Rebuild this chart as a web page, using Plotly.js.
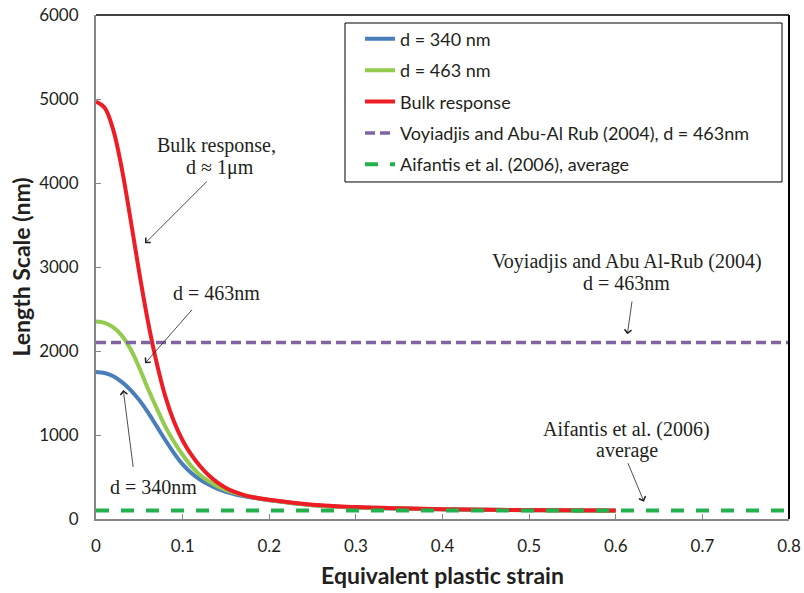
<!DOCTYPE html>
<html>
<head>
<meta charset="utf-8">
<script src="https://cdn.plot.ly/plotly-3.0.1.min.js"></script>
<style>
  html, body { margin: 0; padding: 0; background: #fff; }
  #chart { width: 804px; height: 593px; }
</style>
</head>
<body>
<div id="chart"></div>
<script>
// Equivalent plastic strain at which the length scale was evaluated
var strain = [0, 0.01, 0.02, 0.03, 0.04, 0.05, 0.06, 0.07, 0.08, 0.09, 0.10,
              0.11, 0.12, 0.13, 0.14, 0.15, 0.16, 0.17, 0.18, 0.20,
              0.25, 0.30, 0.35, 0.40, 0.45, 0.50, 0.55, 0.60];

// Length scale (nm) for each specimen size
var ls340 = [1750, 1738, 1700, 1630, 1535, 1415, 1270, 1105, 940, 785, 650,
             548, 470, 410, 360, 322, 295, 273, 255, 222,
             163, 137, 124, 115, 109, 105, 102, 99];
var ls463 = [2350, 2335, 2280, 2180, 2020, 1800, 1550, 1320, 1100, 920, 765,
             630, 525, 450, 390, 345, 312, 285, 262, 225,
             165, 138, 125, 116, 110, 105, 102, 99];
var lsBulk = [4970, 4895, 4630, 4160, 3560, 2930, 2350, 1860, 1460, 1160, 935,
              765, 630, 520, 435, 370, 322, 288, 262, 228,
              170, 142, 127, 117, 110, 106, 103, 100];

// Constant reference values from the literature
var refStrain = [0, 0.8];
var voyiadjis = [2100, 2100];
var aifantis = [100, 100];

var names = ['d = 340 nm', 'd = 463 nm', 'Bulk response',
             'Voyiadjis and Abu-Al Rub (2004), d = 463nm',
             'Aifantis et al. (2006), average'];

var xTicks = [0, 0.1, 0.2, 0.3, 0.4, 0.5, 0.6, 0.7, 0.8];
var yTicks = [0, 1000, 2000, 3000, 4000, 5000, 6000];

var traces = [
  {x: strain, y: ls340, name: names[0], legendgroup: 'a', mode: 'lines',
   line: {color: '#4A7EBB', width: 4, shape: 'spline'}},
  {x: strain, y: ls463, name: names[1], legendgroup: 'b', mode: 'lines',
   line: {color: '#92CB4E', width: 4, shape: 'spline'}},
  {x: strain, y: lsBulk, name: names[2], legendgroup: 'c', mode: 'lines',
   line: {color: '#EE1C25', width: 4, shape: 'spline'}},
  {x: refStrain, y: voyiadjis, name: names[3], legendgroup: 'd', mode: 'lines',
   line: {color: '#8064A2', width: 3.5, dash: '10px,5px'}},
  {x: refStrain, y: aifantis, name: names[4], legendgroup: 'e', mode: 'lines',
   line: {color: '#22B14C', width: 4, dash: '13px,12px'}}
];

var serif = 'Liberation Serif, Times New Roman, serif';
var noteFont = {family: serif, size: 20, color: '#231F20'};

// One annotation per text line keeps the tight serif line spacing
function label(x, y, text) {
  return {x: x, y: y, xref: 'x', yref: 'y', text: text, showarrow: false,
          font: noteFont, align: 'center'};
}
function arrow(x0, y0, x1, y1) {
  return {x: x1, y: y1, ax: x0, ay: y0, xref: 'x', yref: 'y', axref: 'x', ayref: 'y',
          text: '', showarrow: true, arrowhead: 4, arrowsize: 1.7, arrowwidth: 0.8,
          arrowcolor: '#231F20', standoff: 0, startstandoff: 0};
}

var layout = {
  width: 804, height: 593,
  margin: {l: 96, r: 15, t: 15, b: 74},
  paper_bgcolor: '#fff', plot_bgcolor: '#fff',
  font: {family: 'Lato, Open Sans, sans-serif', color: '#231F20'},
  showlegend: true,
  legend: {x: 0.381, y: 0.989, xanchor: 'left', yanchor: 'top',
           bgcolor: 'rgba(0,0,0,0)', borderwidth: 0, tracegroupgap: 5,
           font: {family: 'Lato, Open Sans, sans-serif', size: 18, color: '#231F20'}},
  xaxis: {range: [0, 0.8], tickvals: xTicks, ticks: 'inside', ticklen: 5,
          tickcolor: '#868686', showgrid: false, zeroline: false,
          showline: true, linecolor: '#868686', linewidth: 2,
          ticklabelstandoff: 11,
          tickfont: {size: 17, color: '#231F20'},
          title: {text: '<b>Equivalent plastic strain</b>', standoff: 12,
                  font: {size: 23, color: '#231F20'}}},
  yaxis: {range: [0, 6000], tickvals: yTicks, ticks: 'inside', ticklen: 5,
          tickcolor: '#868686', showgrid: false, zeroline: false,
          showline: true, linecolor: '#868686', linewidth: 2,
          ticklabelstandoff: 12,
          tickfont: {size: 17, color: '#231F20'},
          title: {text: '<b>Length Scale (nm)</b>', standoff: 2,
                  font: {size: 23, color: '#231F20'}}},
  shapes: [
    {type: 'line', xref: 'paper', yref: 'paper', x0: 0, x1: 1, y0: 1, y1: 1,
     line: {color: '#000', width: 1.5}},
    {type: 'line', xref: 'paper', yref: 'paper', x0: 1, x1: 1, y0: 0, y1: 1,
     line: {color: '#000', width: 2}},
    {type: 'rect', xref: 'paper', yref: 'paper', x0: 0.3593, x1: 0.9899, y0: 0.6687, y1: 0.9841,
     line: {color: '#000', width: 1}, fillcolor: 'rgba(0,0,0,0)', layer: 'above'}
  ],
  annotations: [
    label(0.1393, 4452, 'Bulk response,'),
    label(0.143, 4179, 'd ≈ 1μm'),
    arrow(0.1297, 4036, 0.0566, 3282),
    label(0.139, 2687, 'd = 463nm'),
    arrow(0.1123, 2508, 0.0566, 1853),
    label(0.0662, 385, 'd = 340nm'),
    arrow(0.0431, 603, 0.0315, 1536),
    label(0.6126, 3063, 'Voyiadjis and Abu Al-Rub (2004)'),
    label(0.6126, 2806, 'd = 463nm'),
    arrow(0.619, 2607, 0.6134, 2199),
    label(0.6126, 1071, 'Aifantis et al. (2006)'),
    label(0.6126, 813, 'average'),
    arrow(0.6134, 682, 0.6326, 206)
  ]
};

Plotly.newPlot('chart', traces, layout, {displayModeBar: false, staticPlot: true});
</script>
</body>
</html>
